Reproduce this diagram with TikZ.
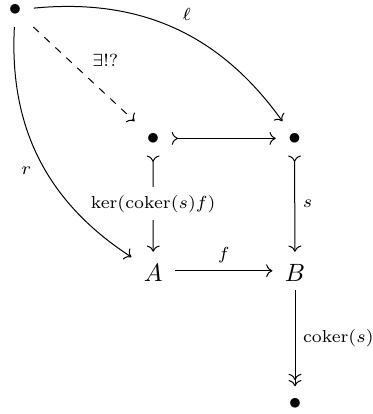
\documentclass[tikz,border=0pt]{standalone}
\usepackage{amsmath}
\usetikzlibrary{arrows.meta}
\begin{document}
\begin{tikzpicture}[x=1pt,y=1pt,
  >={Computer Modern Rightarrow},
  line width=0.4pt,
  cell/.style={inner xsep=5pt, anchor=base, outer sep=0pt},
  dotcell/.style={cell, text height=4.7pt, text depth=0pt, inner ysep=4.5pt},
  objcell/.style={cell, text height=8.6pt, text depth=0pt, inner ysep=3.3pt},
  lab/.style={font=\scriptsize, inner sep=3pt},
  arr/.style={->},
  mono/.style={>->},
  epi/.style={->>},
]
\useasboundingbox (0,0) rectangle (149.2,-165.6);
\node[dotcell] (t) at (6,-6.3) {$\bullet$};
\node[dotcell] (m1) at (61.2,-57.7) {$\bullet$};
\node[dotcell] (m2) at (117.8,-57.7) {$\bullet$};
\node[objcell] (a) at (61.3,-112.6) {$A$};
\node[objcell] (b) at (118,-112.6) {$B$};
\node[dotcell] (z) at (118,-163.7) {$\bullet$};
\draw[mono] (m1) -- node[lab, fill=white] {$\ker(\mathrm{coker}(s)f)$} (a);
\draw[arr] (t) to[bend left=30] node[lab, auto] {$\ell$} (m2);
\draw[arr, dashed] (t) -- node[lab, auto] {$\exists!?$} (m1);
\draw[arr] (t) to[bend right=30] node[lab, auto, swap] {$r$} (a);
\draw[mono] (m1) -- (m2);
\draw[mono] (m2) -- node[lab, auto] {$s$} (b);
\draw[arr] (a) -- node[lab, auto] {$f$} (b);
\draw[epi] (b) -- node[lab, auto] {$\mathrm{coker}(s)$} (z);
\end{tikzpicture}
\end{document}
